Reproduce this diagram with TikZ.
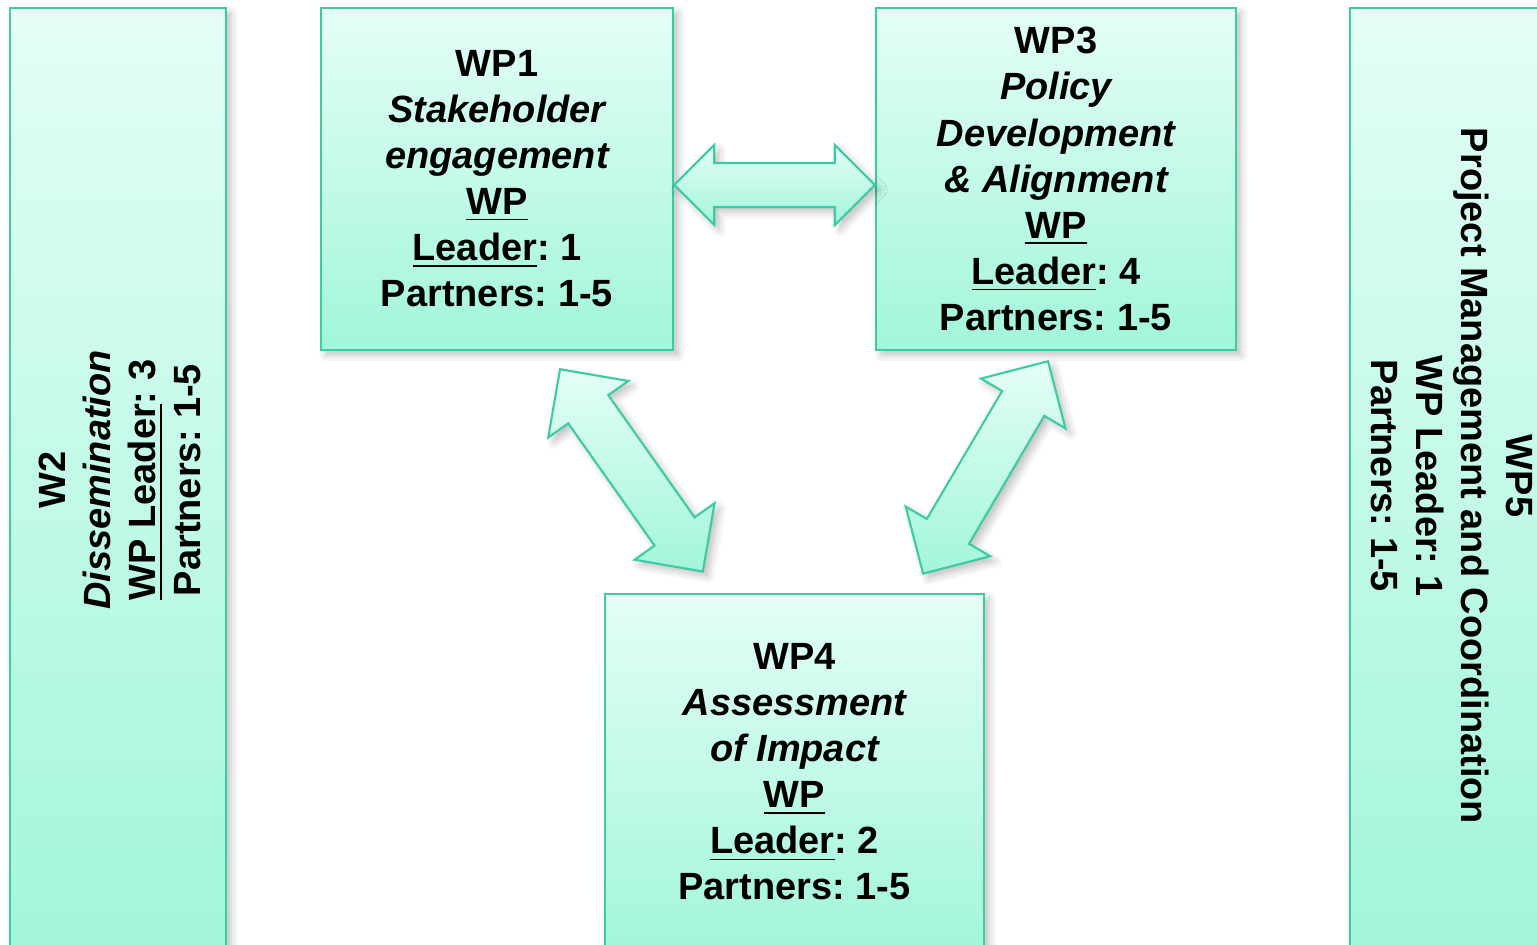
\documentclass[tikz,border=0pt]{standalone}
\usepackage{fontspec}
\setmainfont{Liberation Sans}
\usetikzlibrary{
    calc,
    shadows.blur
}
\frenchspacing
\definecolor{mintlight}{HTML}{E4FEF5}
\definecolor{mintdark}{HTML}{A2F6DA}
\definecolor{wpborder}{HTML}{3CCBA5}
\tikzset{
    % Work package box
    wpbox/.style={
        rectangle,
        draw=wpborder,
        line width=0.7pt,
        top color=mintlight,
        bottom color=mintdark,
        align=center,
        inner sep=0pt,
        font=\fontsize{10.8}{13.1}\selectfont\bfseries,
        blur shadow={shadow blur steps=5, shadow xshift=0.5mm, shadow yshift=-0.5mm, shadow opacity=25}
    },
    % Rotated text of the side bars
    sidetext/.style={
        align=center,
        inner sep=0pt,
        font=\fontsize{10.8}{12.8}\selectfont\bfseries
    },
    % Block double arrow
    blockarrow/.style={
        draw=wpborder,
        line width=0.6pt,
        top color=mintlight,
        bottom color=mintdark,
        blur shadow={shadow blur steps=5, shadow xshift=0.5mm, shadow yshift=-0.5mm, shadow opacity=25}
    }
}
% work package title
\newcommand{\wptitle}[1]{{\itshape #1}}
% block double arrow: from, to, head size, shaft half width
\newcommand{\dblarrow}[4]{%
    \path[blockarrow] let \p1=($(#2)-(#1)$), \n1={atan2(\y1,\x1)}, \n2={veclen(\x1,\y1)} in
        [shift={(#1)}, rotate=\n1]
        (0pt,0pt) -- (#3,#3) -- (#3,#4) -- (\n2-#3,#4) -- (\n2-#3,#3) -- (\n2,0pt)
        -- (\n2-#3,-#3) -- (\n2-#3,-#4) -- (#3,-#4) -- (#3,-#3) -- cycle;
}

\begin{document}
\begin{tikzpicture}

        \useasboundingbox (0,0) rectangle (15.37,9.45);
        \clip (0,0) rectangle (15.37,9.45);

        % Side bars
        \node[wpbox, minimum width=2.16cm, minimum height=9.44cm] (w2) at (1.18, 4.65) {};
        \node[sidetext, rotate=90] (w2text) at (1.20, 4.65) {W2\\ \wptitle{Dissemination}\\ \underline{WP Leader}: 3\\ Partners: 1-5};

        \node[wpbox, minimum width=2.05cm, minimum height=9.44cm] (w5) at (14.525, 4.65) {};
        \node[sidetext, rotate=-90] (w5text) at (14.52, 4.69) {WP5\\ Project Management and Coordination\\ WP Leader: 1\\ Partners: 1-5};

        % Work packages
        \node[wpbox, minimum width=3.52cm, minimum height=3.42cm] (w1) at (4.97, 7.66) {WP1\\ \wptitle{Stakeholder}\\ \wptitle{engagement}\\ \underline{WP}\\ \underline{Leader}: 1\\ Partners: 1-5};
        \node[wpbox, minimum width=3.60cm, minimum height=3.42cm] (w3) at (10.56, 7.66) {WP3\\ \wptitle{Policy}\\ \wptitle{Development}\\ \wptitle{\& Alignment}\\ \underline{WP}\\ \underline{Leader}: 4\\ Partners: 1-5};
        \node[wpbox, minimum width=3.79cm, minimum height=3.56cm] (w4) at (7.945, 1.73) {WP4\\ \wptitle{Assessment}\\ \wptitle{of Impact}\\ \underline{WP}\\ \underline{Leader}: 2\\ Partners: 1-5};

        % Arrow ends
        \coordinate (a1) at ([yshift=-0.06cm]w1.east);
        \coordinate (a3) at ([yshift=-0.06cm]w3.west);
        \coordinate (b1) at ($(w1.south)+(0.63,-0.18)$);
        \coordinate (b4) at ($(w4.north)+(-0.915,0.21)$);
        \coordinate (c3) at ($(w3.south)+(-0.08,-0.10)$);
        \coordinate (c4) at ($(w4.north)+(1.285,0.19)$);

        % Connections
        \dblarrow{a1}{a3}{0.40cm}{0.22cm}
        \dblarrow{b1}{b4}{0.49cm}{0.245cm}
        \dblarrow{c3}{c4}{0.49cm}{0.245cm}

    \end{tikzpicture}
\end{document}
